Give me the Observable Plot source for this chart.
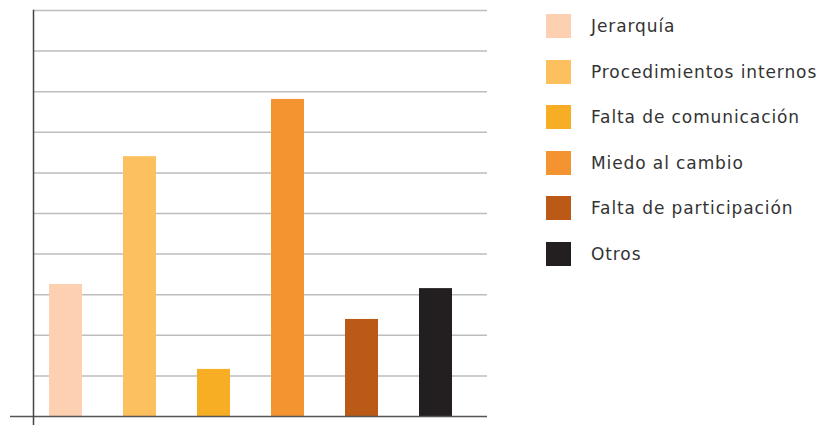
<!DOCTYPE html>
<html>
<head>
<meta charset="utf-8">
<script src="https://cdn.jsdelivr.net/npm/d3@7"></script>
<script src="https://cdn.jsdelivr.net/npm/@observablehq/plot@0.6"></script>
<style>
  html, body { margin: 0; padding: 0; background: #fff; }
  #wrap { position: relative; width: 827px; height: 425px; }
  #chart { position: absolute; left: 0; top: 0; }
  #legend { position: absolute; left: 546px; top: 14px; font-family: "DejaVu Sans", sans-serif; font-size: 17px; letter-spacing: 0.9px; color: #333; }
  .row { display: flex; align-items: center; height: 24px; margin-bottom: 21.5px; }
  .sw { width: 25px; height: 24px; margin-right: 20px; flex: none; }
  .lab { white-space: nowrap; }
</style>
</head>
<body>
<div id="wrap"><div id="chart"></div><div id="legend"></div></div>
<script>
const categories = ["Jerarquía", "Procedimientos internos", "Falta de comunicación", "Miedo al cambio", "Falta de participación", "Otros"];
const values = [3.25, 6.4, 1.16, 7.81, 2.39, 3.15];
const colors = ["#fdd0b1", "#fcc05e", "#f7ae25", "#f39431", "#ba5a16", "#231f20"];
const gridTicks = [1, 2, 3, 4, 5, 6, 7, 8, 9, 10];

const data = categories.map((c, i) => ({cat: c, value: values[i]}));

const chart = Plot.plot({
  width: 500,
  height: 425,
  marginTop: 10,
  marginBottom: 9,
  marginLeft: 33,
  marginRight: 13,
  style: {background: "transparent"},
  x: {domain: categories, axis: null, paddingInner: 0.558, paddingOuter: 0.31, align: 0.32},
  y: {domain: [0, 10], axis: null},
  color: {domain: categories, range: colors},
  marks: [
    Plot.ruleY(gridTicks, {stroke: "#bdbdbd", strokeWidth: 1.5}),
    Plot.barY(data, {x: "cat", y: "value", fill: "cat"}),
    Plot.ruleY([0], {stroke: "#555", strokeWidth: 1.5, insetLeft: -23}),
    Plot.frame({anchor: "left", stroke: "#444", strokeWidth: 1.5, insetBottom: -9})
  ]
});
document.getElementById("chart").appendChild(chart);

const legend = document.getElementById("legend");
categories.forEach((c, i) => {
  const row = document.createElement("div");
  row.className = "row";
  const sw = document.createElement("div");
  sw.className = "sw";
  sw.style.background = colors[i];
  const lab = document.createElement("span");
  lab.className = "lab";
  lab.textContent = c;
  row.appendChild(sw);
  row.appendChild(lab);
  legend.appendChild(row);
});
</script>
</body>
</html>
